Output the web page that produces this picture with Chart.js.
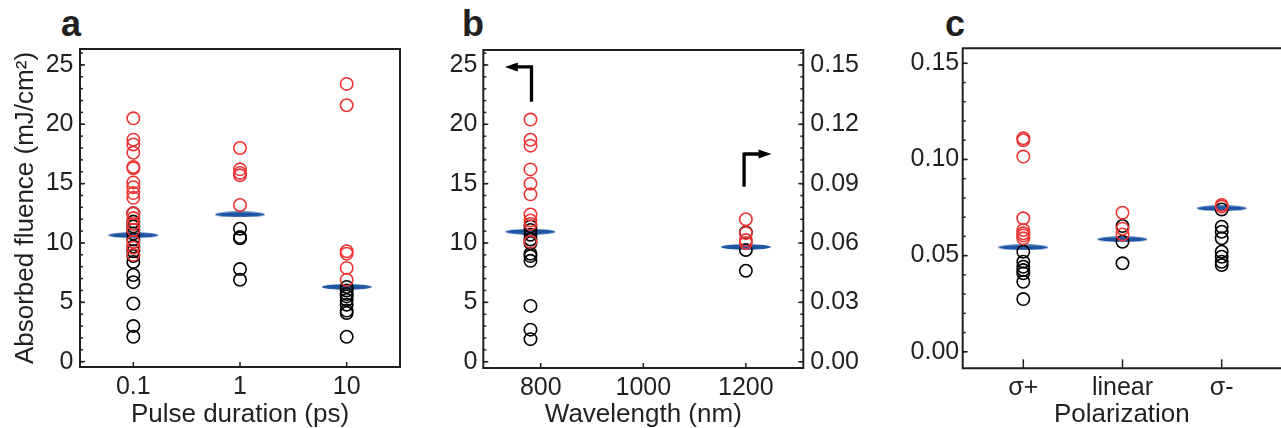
<!DOCTYPE html>
<html>
<head>
<meta charset="utf-8">
<script src="https://cdn.jsdelivr.net/npm/chart.js@4.4.1/dist/chart.umd.min.js"></script>
<style>
  body { margin: 0; width: 1281px; height: 428px; overflow: hidden; position: relative; background: #fff; }
  canvas { position: absolute; top: 0; }
  .panel { position: absolute; font: bold 36px "Liberation Sans", Arial, sans-serif; line-height: 36px; color: #231f20; }
</style>
</head>
<body>
<div class="panel" style="left:61px;top:6px">a</div>
<div class="panel" style="left:462px;top:6px">b</div>
<div class="panel" style="left:945px;top:6px">c</div>
<canvas id="chartA" width="420" height="428" style="left:0"></canvas>
<canvas id="chartB" width="450" height="428" style="left:420px"></canvas>
<canvas id="chartC" width="415" height="428" style="left:866px"></canvas>
<script>
// panel a: absorbed fluence vs pulse duration
const pulseDurations = ['0.1', '1', '10'];
const aRed = [
  [20.5, 18.7, 18.3, 17.6, 16.4, 16.3, 15.1, 14.7, 14.2, 13.8, 12.5, 12.1, 11.6, 11.1, 10.1, 9.6, 9.0],
  [18.0, 16.2, 15.9, 15.7, 13.2],
  [23.4, 21.6, 9.3, 9.1, 7.9, 6.9]
];
const aBlack = [
  [12.5, 11.8, 11.4, 11.1, 10.8, 10.3, 9.7, 9.3, 8.9, 8.4, 7.3, 6.7, 4.9, 3.0, 2.1],
  [11.2, 10.5, 10.4, 7.8, 6.9],
  [6.3, 6.0, 5.7, 5.5, 5.2, 4.8, 4.3, 4.1, 2.1]
];
const aMean = [10.65, 12.4, 6.3];
const aYTicks = [0, 5, 10, 15, 20, 25];

// panel b: wavelength (780 nm on left axis, 1200 nm on right axis)
const wavelengths = [780, 1200];
const bRed780 = [20.4, 18.7, 18.2, 16.2, 15.0, 14.1, 12.4, 11.9, 11.6, 10.1];
const bBlack780 = [11.4, 11.1, 10.7, 10.3, 10.0, 9.1, 8.9, 8.5, 4.7, 2.7, 1.9];
const bMean780 = 10.95;
const bRed1200 = [0.072, 0.065, 0.0615, 0.060];
const bBlack1200 = [0.0654, 0.0565, 0.046];
const bMean1200 = 0.058;
const bXTicks = [800, 1000, 1200];
const bYTicks = [0, 5, 10, 15, 20, 25];
const bY2Ticks = [0, 0.03, 0.06, 0.09, 0.12, 0.15];

// panel c: polarization
const polarizations = ['σ+', 'linear', 'σ-'];
const cRed = [
  [0.111, 0.110, 0.1015, 0.0694, 0.0633, 0.0616, 0.0605, 0.059],
  [0.0723, 0.0640, 0.0610],
  [0.0763, 0.0755]
];
const cBlack = [
  [0.052, 0.0468, 0.0442, 0.0425, 0.0408, 0.0364, 0.0274],
  [0.0654, 0.0572, 0.046],
  [0.074, 0.065, 0.0624, 0.059, 0.052, 0.0494, 0.0468, 0.0451]
];
const cMean = [0.0543, 0.0585, 0.0746];
const cYTicks = [0, 0.05, 0.10, 0.15];

const ink = '#231f20';
const red = '#ec3535';
const blue = '#1f56a3';

Chart.defaults.font.family = '"Liberation Sans", Arial, Helvetica, sans-serif';
Chart.defaults.color = ink;

function range(from, to, step) {
  const out = [];
  const n = Math.round((to - from) / step);
  for (let i = 0; i <= n; i++) out.push(+(from + i * step).toFixed(6));
  return out;
}

// flat horizontal ellipse used for the mean marks
function meanMark(w, h) {
  const c = document.createElement('canvas');
  c.width = w; c.height = h;
  const g = c.getContext('2d');
  g.fillStyle = blue;
  g.beginPath();
  g.ellipse(w / 2, h / 2, w / 2, h / 2 - 0.3, 0, 0, Math.PI * 2);
  g.fill();
  return c;
}
const lens = meanMark(50, 6);

const byIndex = groups => groups.flatMap((vals, i) => vals.map(v => ({ x: i, y: v })));
const atX = (x, vals) => vals.map(v => ({ x, y: v }));

function circles(data, color, axis) {
  return {
    data, yAxisID: axis || 'y', showLine: false,
    pointStyle: 'circle', pointRadius: 6.2, pointBorderWidth: 1.6,
    borderColor: color, backgroundColor: 'rgba(0,0,0,0)'
  };
}
function means(data, axis) {
  return { data, yAxisID: axis || 'y', showLine: false, pointStyle: lens, pointRadius: 6 };
}

// box round the plot plus inward tick marks; openRight leaves the right side off
function framePlugin(marks, extra, openRight) {
  return {
    id: 'frame',
    afterDraw(chart) {
      const { ctx, chartArea: a } = chart;
      ctx.save();
      ctx.strokeStyle = ink;
      ctx.lineWidth = 2;
      if (openRight) {
        ctx.beginPath();
        ctx.moveTo(chart.width + 2, a.top);
        ctx.lineTo(a.left, a.top);
        ctx.lineTo(a.left, a.bottom);
        ctx.lineTo(chart.width + 2, a.bottom);
        ctx.stroke();
      } else {
        ctx.strokeRect(a.left, a.top, a.right - a.left, a.bottom - a.top);
      }
      ctx.lineWidth = 1.5;
      marks.forEach(m => {
        const s = chart.scales[m.axis];
        m.at.forEach(v => {
          const p = s.getPixelForValue(v);
          ctx.beginPath();
          if (m.side === 'left') { ctx.moveTo(a.left, p); ctx.lineTo(a.left + m.len, p); }
          if (m.side === 'right') { ctx.moveTo(a.right, p); ctx.lineTo(a.right - m.len, p); }
          if (m.side === 'bottom') { ctx.moveTo(p, a.bottom); ctx.lineTo(p, a.bottom - m.len); }
          ctx.stroke();
        });
      });
      if (extra) extra(chart);
      ctx.restore();
    }
  };
}

function xAxis(opts) {
  return {
    type: 'linear', min: opts.min, max: opts.max,
    grid: { display: false, drawTicks: false }, border: { display: false },
    afterBuildTicks: s => { s.ticks = opts.ticks.map(v => ({ value: v })); },
    afterFit: s => { s.height = opts.height; s.paddingLeft = 0; s.paddingRight = 0; },
    ticks: { padding: 5, font: { size: 25 }, maxRotation: 0, autoSkip: false, callback: opts.label },
    title: { display: true, text: opts.title, font: { size: 26, lineHeight: 1 }, padding: 0 }
  };
}
function yAxis(opts) {
  const ax = {
    type: 'linear', position: opts.position || 'left', min: opts.min, max: opts.max,
    grid: { display: false, drawTicks: false }, border: { display: false },
    afterBuildTicks: s => { s.ticks = opts.ticks.map(v => ({ value: v })); },
    afterFit: s => { s.width = opts.width; s.paddingTop = 0; s.paddingBottom = 0; },
    ticks: { padding: opts.pad, font: { size: 25 }, callback: opts.label }
  };
  if (opts.title) ax.title = { display: true, text: opts.title, font: { size: 26 }, padding: { top: 10, bottom: 0 } };
  return ax;
}

const base = {
  responsive: false, animation: false,
  plugins: { legend: { display: false }, tooltip: { enabled: false } }
};

// ---- a ----
new Chart(document.getElementById('chartA'), {
  type: 'scatter',
  data: { datasets: [
    circles(byIndex(aRed), red),
    circles(byIndex(aBlack), '#000'),
    means(aMean.map((v, i) => ({ x: i, y: v })))
  ] },
  options: Object.assign({}, base, {
    layout: { autoPadding: false, padding: { top: 49, right: 20, left: 0, bottom: 0 } },
    scales: {
      x: xAxis({ min: -0.5, max: 2.5, ticks: [0, 1, 2], height: 61, title: 'Pulse duration (ps)',
                 label: v => pulseDurations[v] }),
      y: yAxis({ min: -0.45, max: 26.34, ticks: aYTicks, width: 80, pad: 6.5,
                 title: 'Absorbed fluence (mJ/cm²)', label: v => String(v) })
    }
  }),
  plugins: [framePlugin([
    { axis: 'y', side: 'left', at: range(0, 26, 1), len: 3 },
    { axis: 'y', side: 'left', at: aYTicks, len: 5 },
    { axis: 'x', side: 'bottom', at: [0, 1, 2], len: 5 }
  ])]
});

// ---- b ----
const bArrows = [
  { axis: 'y', points: [[782, 21.9], [782, 24.83], [730, 24.83]] },
  { axis: 'y', points: [[1196.5, 14.74], [1196.5, 17.5], [1250, 17.5]] }
];
function drawArrows(chart) {
  const { ctx } = chart;
  const xs = chart.scales.x;
  ctx.strokeStyle = '#000';
  ctx.fillStyle = '#000';
  ctx.lineWidth = 3.3;
  ctx.lineCap = 'butt';
  ctx.lineJoin = 'miter';
  bArrows.forEach(ar => {
    const ys = chart.scales[ar.axis];
    const pts = ar.points.map(p => [xs.getPixelForValue(p[0]), ys.getPixelForValue(p[1])]);
    const tip = pts[pts.length - 1];
    const prev = pts[pts.length - 2];
    const dir = Math.sign(tip[0] - prev[0]);
    ctx.beginPath();
    ctx.moveTo(pts[0][0], pts[0][1]);
    ctx.lineTo(pts[1][0], pts[1][1] - (pts[1][1] < pts[0][1] ? 1.6 : 0));
    ctx.moveTo(pts[1][0], pts[1][1]);
    ctx.lineTo(tip[0] - dir * 11, tip[1]);
    ctx.stroke();
    ctx.beginPath();
    ctx.moveTo(tip[0], tip[1]);
    ctx.lineTo(tip[0] - dir * 13, tip[1] - 4.5);
    ctx.lineTo(tip[0] - dir * 13, tip[1] + 4.5);
    ctx.closePath();
    ctx.fill();
  });
}

new Chart(document.getElementById('chartB'), {
  type: 'scatter',
  data: { datasets: [
    circles(atX(wavelengths[0], bRed780), red),
    circles(atX(wavelengths[0], bBlack780), '#000'),
    means([{ x: wavelengths[0], y: bMean780 }]),
    circles(atX(wavelengths[1], bRed1200), red, 'y2'),
    circles(atX(wavelengths[1], bBlack1200), '#000', 'y2'),
    means([{ x: wavelengths[1], y: bMean1200 }], 'y2')
  ] },
  options: Object.assign({}, base, {
    layout: { autoPadding: false, padding: { top: 50, right: 0, left: 0, bottom: 0 } },
    scales: {
      x: xAxis({ min: 688, max: 1312, ticks: bXTicks, height: 60, title: 'Wavelength (nm)',
                 label: v => String(v) }),
      y: yAxis({ min: -0.53, max: 26.26, ticks: bYTicks, width: 63.3, pad: 6, label: v => String(v) }),
      y2: yAxis({ position: 'right', min: -0.00318, max: 0.15756, ticks: bY2Ticks, width: 66.7, pad: 7,
                  label: v => v.toFixed(2) })
    }
  }),
  plugins: [framePlugin([
    { axis: 'y', side: 'left', at: range(0, 26, 1), len: 3 },
    { axis: 'y', side: 'left', at: bYTicks, len: 5 },
    { axis: 'y2', side: 'right', at: range(0, 0.156, 0.006), len: 3 },
    { axis: 'y2', side: 'right', at: bY2Ticks, len: 5 },
    { axis: 'x', side: 'bottom', at: bXTicks, len: 5 }
  ], drawArrows)]
});

// ---- c ---- (box runs past the right edge of the page)
new Chart(document.getElementById('chartC'), {
  type: 'scatter',
  data: { datasets: [
    circles(byIndex(cRed), red),
    circles(byIndex(cBlack), '#000'),
    means(cMean.map((v, i) => ({ x: i, y: v })))
  ] },
  options: Object.assign({}, base, {
    layout: { autoPadding: false, padding: { top: 48.3, right: 0, left: 0, bottom: 0 } },
    scales: {
      x: xAxis({ min: -0.611, max: 2.598, ticks: [0, 1, 2], height: 59.7, title: 'Polarization',
                 label: v => polarizations[v] }),
      y: yAxis({ min: -0.0086, max: 0.1578, ticks: cYTicks, width: 96.7, pad: 3.5, label: v => v.toFixed(2) })
    }
  }),
  plugins: [framePlugin([
    { axis: 'y', side: 'left', at: range(0, 0.15, 0.01), len: 3 },
    { axis: 'y', side: 'left', at: cYTicks, len: 5 },
    { axis: 'x', side: 'bottom', at: [0, 1, 2], len: 9 }
  ], null, true)]
});
</script>
</body>
</html>
